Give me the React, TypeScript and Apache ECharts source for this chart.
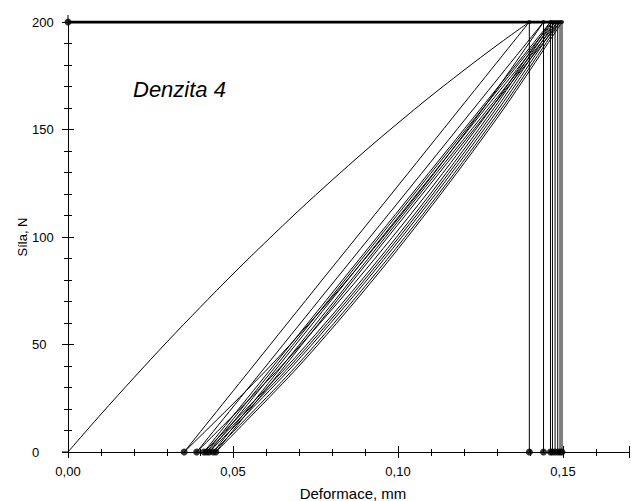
import React, { useEffect, useRef } from "react";
import * as echarts from "echarts";

// ---- data ----
const MAX_FORCE = 200; // N
const FORCE_LEVELS = [0, 40, 80, 120, 160, 200];

// first (virgin) loading curve: [deformation mm, force N]
const INITIAL_LOAD: [number, number][] = [
  [0, 0], [0.01, 17.6], [0.02, 34.6], [0.03, 51.2], [0.04, 67.2], [0.05, 82.8],
  [0.06, 97.8], [0.07, 112.4], [0.08, 126.4], [0.09, 140], [0.1, 153],
  [0.11, 165.6], [0.12, 177.6], [0.13, 189.2], [0.1398, 200],
];

// unloading branches: deformation at each FORCE_LEVELS value
const UNLOAD_X: number[][] = [
  [0.0352, 0.0561, 0.077, 0.098, 0.1189, 0.1398],
  [0.039, 0.06, 0.081, 0.1021, 0.1231, 0.1441],
  [0.0412, 0.0622, 0.0832, 0.1042, 0.1252, 0.1462],
  [0.042, 0.063, 0.0839, 0.1049, 0.1258, 0.1468],
  [0.0428, 0.0638, 0.0847, 0.1057, 0.1266, 0.1476],
  [0.044, 0.0649, 0.0858, 0.1066, 0.1275, 0.1484],
  [0.0448, 0.0657, 0.0865, 0.1074, 0.1282, 0.1491],
];

// reloading branches: deformation at each FORCE_LEVELS value
const RELOAD_X: number[][] = [
  [0.0352, 0.0613, 0.0846, 0.106, 0.1259, 0.1441],
  [0.039, 0.0647, 0.0876, 0.1087, 0.1283, 0.1462],
  [0.0412, 0.0665, 0.089, 0.1098, 0.1291, 0.1468],
  [0.042, 0.0673, 0.0898, 0.1106, 0.1299, 0.1476],
  [0.0428, 0.0681, 0.0906, 0.1114, 0.1307, 0.1484],
  [0.044, 0.0692, 0.0916, 0.1123, 0.1315, 0.1491],
  [0.0448, 0.07, 0.0924, 0.113, 0.1322, 0.1497],
];

const PEAK_DEFORMATIONS = [0.1398, 0.1441, 0.1462, 0.1468, 0.1476, 0.1484, 0.1491, 0.1497];
const RESIDUAL_DEFORMATIONS = [0.0352, 0.039, 0.0412, 0.042, 0.0428, 0.044, 0.0448];

const X_TICK_LABELS = ["0,00", "0,05", "0,10", "0,15"];
const Y_TICK_LABELS = ["0", "50", "100", "150", "200"];
const X_TITLE = "Deformace, mm";
const Y_TITLE = "Síla, N";
const CHART_NOTE = "Denzita 4";

const FONT = "'Liberation Sans', Arial, sans-serif";

export default function App() {
  const ref = useRef<HTMLDivElement>(null);

  useEffect(() => {
    if (!ref.current) return;
    const chart = echarts.init(ref.current, undefined, { renderer: "svg" });

    const black = "#000";
    const thin = { color: black, width: 1 };

    const xLabel = (v: number) => {
      const k = v / 0.05;
      const r = Math.round(k);
      return Math.abs(k - r) < 1e-6 && X_TICK_LABELS[r] !== undefined ? X_TICK_LABELS[r] : "";
    };
    const yLabel = (v: number) => {
      const k = v / 50;
      const r = Math.round(k);
      return Math.abs(k - r) < 1e-6 && Y_TICK_LABELS[r] !== undefined ? Y_TICK_LABELS[r] : "";
    };

    const baseX = {
      type: "value" as const,
      position: "bottom" as const,
      min: 0,
      max: 0.17,
      splitLine: { show: false },
    };
    const baseY = {
      type: "value" as const,
      position: "left" as const,
      min: 0,
      max: MAX_FORCE,
      splitLine: { show: false },
    };

    const series: any[] = [];

    series.push({
      type: "line",
      data: INITIAL_LOAD,
      showSymbol: false,
      smooth: 0.3,
      lineStyle: thin,
      z: 3,
    });

    UNLOAD_X.forEach((xs) => {
      series.push({
        type: "line",
        data: xs.map((x, i) => [x, FORCE_LEVELS[i]]),
        showSymbol: false,
        smooth: 0.3,
        lineStyle: thin,
        z: 3,
      });
    });
    RELOAD_X.forEach((xs) => {
      series.push({
        type: "line",
        data: xs.map((x, i) => [x, FORCE_LEVELS[i]]),
        showSymbol: false,
        smooth: 0.3,
        lineStyle: thin,
        z: 3,
      });
    });

    PEAK_DEFORMATIONS.forEach((x) => {
      series.push({
        type: "line",
        data: [[x, 0], [x, MAX_FORCE]],
        showSymbol: false,
        lineStyle: thin,
        z: 3,
      });
    });

    // maximum-force plateau
    series.push({
      type: "line",
      data: [[0, MAX_FORCE], [PEAK_DEFORMATIONS[PEAK_DEFORMATIONS.length - 1], MAX_FORCE]],
      showSymbol: false,
      lineStyle: { color: black, width: 3 },
      z: 4,
    });

    // markers
    series.push({
      type: "scatter",
      data: [
        ...RESIDUAL_DEFORMATIONS.map((x) => [x, 0]),
        ...PEAK_DEFORMATIONS.map((x) => [x, 0]),
        [0, MAX_FORCE],
      ],
      symbol: "circle",
      symbolSize: 7,
      itemStyle: { color: black },
      z: 6,
    });
    series.push({
      type: "scatter",
      data: PEAK_DEFORMATIONS.map((x) => [x, MAX_FORCE]),
      symbol: "circle",
      symbolSize: 4,
      itemStyle: { color: black },
      z: 6,
    });

    chart.setOption({
      animation: false,
      backgroundColor: "#fff",
      grid: { left: 68, right: 4, top: 22, bottom: 49, containLabel: false },
      xAxis: [
        {
          ...baseX,
          interval: 0.01,
          axisLine: { show: true, onZero: false, lineStyle: thin },
          axisTick: { show: true, length: 4, lineStyle: thin },
          axisLabel: { formatter: xLabel, color: black, fontSize: 13, fontFamily: FONT, margin: 13 },
        },
        {
          ...baseX,
          interval: 0.01,
          axisLine: { show: false },
          axisTick: { show: true, inside: true, length: 3, lineStyle: thin },
          axisLabel: { show: false },
        },
        {
          ...baseX,
          interval: 0.05,
          axisLine: { show: false },
          axisTick: { show: true, length: 6, lineStyle: thin },
          axisLabel: { show: false },
        },
        {
          ...baseX,
          interval: 0.05,
          axisLine: { show: false },
          axisTick: { show: true, inside: true, length: 6, lineStyle: thin },
          axisLabel: { show: false },
        },
      ],
      yAxis: [
        {
          ...baseY,
          interval: 10,
          axisLine: { show: true, onZero: false, lineStyle: thin },
          axisTick: { show: true, length: 4, lineStyle: thin },
          axisLabel: { formatter: yLabel, color: black, fontSize: 13, fontFamily: FONT, margin: 36, align: "left" },
        },
        {
          ...baseY,
          interval: 10,
          axisLine: { show: false },
          axisTick: { show: true, inside: true, length: 4, lineStyle: thin },
          axisLabel: { show: false },
        },
        {
          ...baseY,
          interval: 50,
          axisLine: { show: false },
          axisTick: { show: true, length: 6, lineStyle: thin },
          axisLabel: { show: false },
        },
        {
          ...baseY,
          interval: 50,
          axisLine: { show: false },
          axisTick: { show: true, inside: true, length: 6, lineStyle: thin },
          axisLabel: { show: false },
        },
      ],
      graphic: [
        { type: "line", shape: { x1: 68, y1: 15, x2: 68, y2: 22 }, style: { stroke: black, lineWidth: 1 } },
        { type: "line", shape: { x1: 62, y1: 452, x2: 68, y2: 452 }, style: { stroke: black, lineWidth: 1 } },
        {
          type: "text",
          x: 353,
          y: 493,
          style: {
            text: X_TITLE,
            font: `15px ${FONT}`,
            fill: black,
            align: "center",
            verticalAlign: "middle",
          },
        },
        {
          type: "text",
          x: 22,
          y: 237,
          rotation: Math.PI / 2,
          style: {
            text: Y_TITLE,
            font: `13px ${FONT}`,
            fill: black,
            align: "center",
            verticalAlign: "middle",
          },
        },
        {
          type: "text",
          x: 133,
          y: 89,
          style: {
            text: CHART_NOTE,
            font: `italic 22px ${FONT}`,
            fill: black,
            verticalAlign: "middle",
            align: "left",
          },
        },
      ],
      series,
    });

    return () => chart.dispose();
  }, []);

  return (
    <div
      ref={ref}
      style={{ position: "absolute", left: 0, top: 0, width: 633, height: 501 }}
    />
  );
}
